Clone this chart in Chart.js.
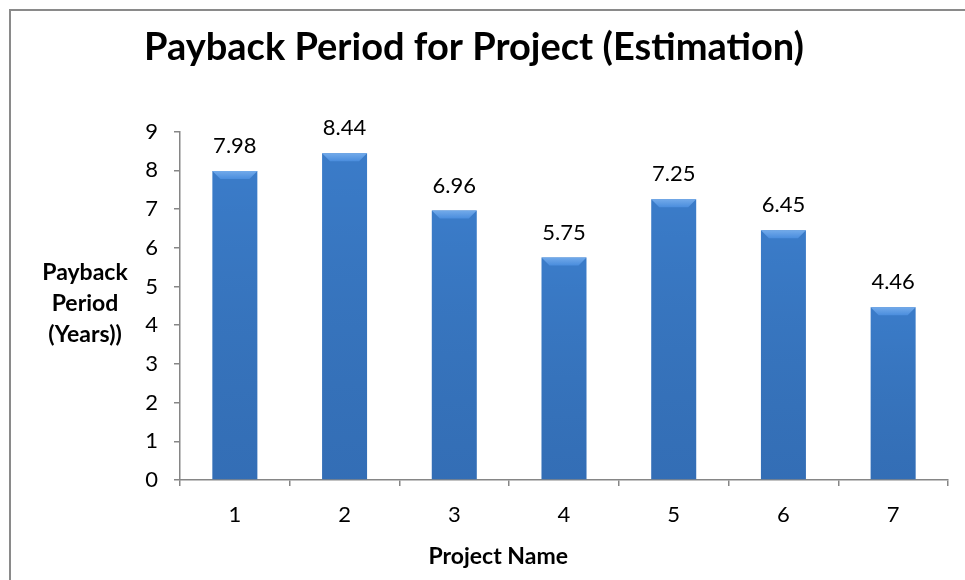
<!DOCTYPE html>
<html>
<head>
<meta charset="utf-8">
<script src="https://cdn.jsdelivr.net/npm/chart.js@4"></script>
<style>
  html, body { margin: 0; padding: 0; background: #ffffff; }
  #wrap { position: relative; width: 965px; height: 580px; overflow: hidden; }
  #frame { position: absolute; left: 9px; top: 9px; width: 1000px; height: 600px;
           border-left: 2px solid #8a8a8a; border-top: 2px solid #8a8a8a; box-sizing: border-box; }
  canvas { position: absolute; left: 0; top: 0; }
</style>
</head>
<body>
<div id="wrap">
  <div id="frame"></div>
  <canvas id="c" width="965" height="580"></canvas>
</div>
<script>
const categories = ["1", "2", "3", "4", "5", "6", "7"];
const paybackYears = [7.98, 8.44, 6.96, 5.75, 7.25, 6.45, 4.46];
const yTicks = [0, 1, 2, 3, 4, 5, 6, 7, 8, 9];
const chartTitle = "Payback Period for Project (Estimation)";
const xAxisTitle = "Project Name";
const yAxisTitleLines = ["Payback", "Period", "(Years))"];

const FONT = "Lato, 'Open Sans', sans-serif";
const AXIS_COLOR = "#868686";

function barFill(ctx) {
  const chart = ctx.chart;
  const el = ctx.element;
  if (!el || !chart.chartArea) return "#3a7bc8";
  const x = el.x, w = el.width;
  if (!Number.isFinite(x) || !Number.isFinite(w) || w <= 0) return "#3a7bc8";
  const g = chart.ctx.createLinearGradient(x - w / 2, 0, x + w / 2, 0);
  g.addColorStop(0, "#254f88");
  g.addColorStop(0.1, "#3169ae");
  g.addColorStop(0.5, "#3a7bcc");
  g.addColorStop(0.9, "#3169ae");
  g.addColorStop(1, "#254f88");
  return g;
}

const bevelPlugin = {
  id: "bevel",
  afterDatasetsDraw(chart) {
    const ctx = chart.ctx;
    const meta = chart.getDatasetMeta(0);
    meta.data.forEach(bar => {
      const l = bar.x - bar.width / 2, r = bar.x + bar.width / 2;
      const t = bar.y, b = bar.base;
      if (![l, r, t, b].every(Number.isFinite)) return;
      const d = 8;
      ctx.save();
      const gt = ctx.createLinearGradient(0, t, 0, t + d);
      gt.addColorStop(0, "#72aaea");
      gt.addColorStop(1, "#4a8ddd");
      ctx.fillStyle = gt;
      ctx.beginPath();
      ctx.moveTo(l, t); ctx.lineTo(r, t); ctx.lineTo(r - d, t + d); ctx.lineTo(l + d, t + d); ctx.closePath();
      ctx.fill();
      const gb = ctx.createLinearGradient(0, t + d, 0, b);
      gb.addColorStop(0, "rgba(0,0,0,0)");
      gb.addColorStop(1, "rgba(10,30,70,0.14)");
      ctx.fillStyle = gb;
      ctx.fillRect(l, t + d, r - l, b - t - d);
      ctx.restore();
    });
  }
};

const labelPlugin = {
  id: "valueLabels",
  afterDatasetsDraw(chart) {
    const ctx = chart.ctx;
    const meta = chart.getDatasetMeta(0);
    ctx.save();
    ctx.font = "22px " + FONT;
    ctx.fillStyle = "#000";
    ctx.textAlign = "center";
    ctx.textBaseline = "middle";
    meta.data.forEach((bar, i) => {
      ctx.fillText(paybackYears[i].toFixed(2), bar.x, bar.y - 25);
    });
    ctx.restore();
  }
};

const axisTitlesPlugin = {
  id: "axisTitles",
  afterDraw(chart) {
    const ctx = chart.ctx;
    const ys = chart.scales.y;
    const xs = chart.scales.x;
    ctx.save();
    ctx.font = "bold 23px " + FONT;
    ctx.fillStyle = "#000";
    ctx.textAlign = "center";
    ctx.textBaseline = "middle";
    const cy = ys.getPixelForValue(4.55);
    const lh = 31;
    yAxisTitleLines.forEach((s, i) => {
      ctx.fillText(s, 85, cy + (i - 1) * lh);
    });
    ctx.fillText(xAxisTitle, xs.getPixelForValue(2.4), 557);
    ctx.restore();
  }
};

new Chart(document.getElementById("c"), {
  type: "bar",
  data: {
    labels: categories,
    datasets: [{
      data: paybackYears,
      backgroundColor: barFill,
      borderWidth: 0,
      barPercentage: 0.41,
      categoryPercentage: 1.0
    }]
  },
  options: {
    responsive: false,
    animation: false,
    devicePixelRatio: 1,
    layout: { padding: { top: 0, right: 17, bottom: 0, left: 0 } },
    plugins: {
      legend: { display: false },
      tooltip: { enabled: false },
      title: {
        display: true,
        text: chartTitle,
        color: "#000",
        font: { family: FONT, size: 38, weight: "bold", lineHeight: 1.2 },
        padding: { top: 25, bottom: 61 }
      }
    },
    scales: {
      x: {
        grid: { display: true, drawOnChartArea: false, offset: true, color: AXIS_COLOR, tickLength: 6, lineWidth: 1.5 },
        border: { display: true, color: AXIS_COLOR, width: 1.5 },
        ticks: { color: "#000", font: { family: FONT, size: 22 }, padding: 16 },
        afterFit(scale) { scale.height = 100; }
      },
      y: {
        min: 0, max: 9,
        afterBuildTicks(scale) { scale.ticks = yTicks.map(v => ({ value: v })); },
        grid: { display: true, drawOnChartArea: false, color: AXIS_COLOR, tickLength: 6, lineWidth: 1.5 },
        border: { display: true, color: AXIS_COLOR, width: 1.5 },
        ticks: { color: "#000", font: { family: FONT, size: 22 }, padding: 16 },
        afterFit(scale) { scale.width = 180; }
      }
    }
  },
  plugins: [bevelPlugin, labelPlugin, axisTitlesPlugin]
});
</script>
</body>
</html>
